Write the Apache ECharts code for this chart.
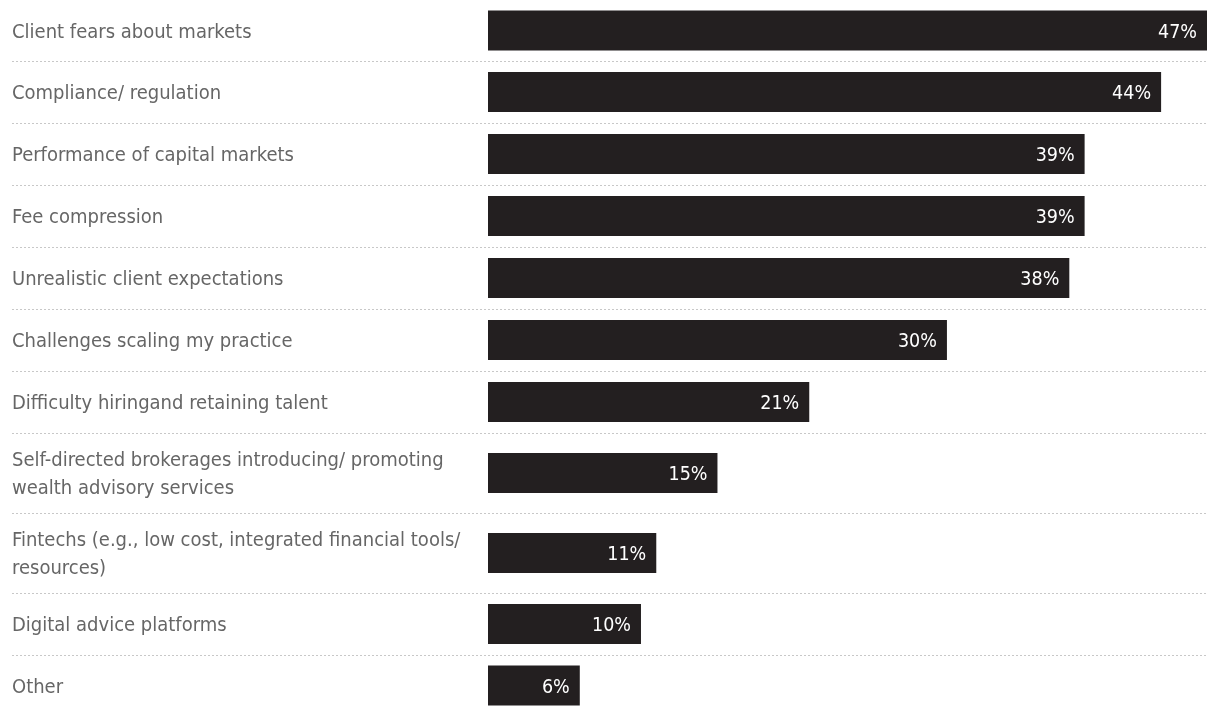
<!DOCTYPE html>
<html><head><meta charset="utf-8">
<script src="https://cdn.jsdelivr.net/npm/echarts@6/dist/echarts.min.js"></script>
<style>html,body{margin:0;padding:0;background:#fff}#c{width:1220px;height:716px}</style>
</head><body><div id="c"></div>
<script>
const categories = [
  'Client fears about markets',
  'Compliance/ regulation',
  'Performance of capital markets',
  'Fee compression',
  'Unrealistic client expectations',
  'Challenges scaling my practice',
  'Difficulty hiringand retaining talent',
  'Self-directed brokerages introducing/ promoting\nwealth advisory services',
  'Fintechs (e.g., low cost, integrated financial tools/\nresources)',
  'Digital advice platforms',
  'Other'
];
const values = [47, 44, 39, 39, 38, 30, 21, 15, 11, 10, 6];
const axisMax = 47;

(function () {
const FONT = "'Liberation Sans Narrow', 'DejaVu Sans Condensed', Roboto, sans-serif";
const rowHeights = categories.map(c => c.indexOf('\n') >= 0 ? 80 : 62);
const grids = [], xAxes = [], yAxes = [], series = [], graphics = [];
let rowTop = -1;
categories.forEach((cat, i) => {
  const h = rowHeights[i];
  grids.push({left: 488, right: 13, top: rowTop, height: h});
  xAxes.push({gridIndex: i, type: 'value', min: 0, max: axisMax, show: false});
  yAxes.push({gridIndex: i, type: 'category', data: [cat],
    axisLine: {show: false}, axisTick: {show: false},
    axisLabel: {align: 'left', margin: 476, fontFamily: FONT,
      formatter: v => '{a|' + v + '}',
      rich: {a: {color: '#666666', fontSize: 20, lineHeight: 28, fontFamily: FONT, padding: [5, 0, 1, 0]}}}});
  series.push({type: 'bar', xAxisIndex: i, yAxisIndex: i, data: [values[i]], barWidth: 40,
    itemStyle: {color: '#231f20'}, silent: true,
    label: {show: true, position: 'insideRight', distance: 10, offset: [0, 2], color: '#ffffff',
      fontSize: 19.5, fontFamily: FONT, formatter: p => p.value + '%'}});
  rowTop += h;
  if (i < categories.length - 1) {
    graphics.push({type: 'line', shape: {x1: 12, y1: rowTop + 0.5, x2: 1207, y2: rowTop + 0.5},
      style: {stroke: '#c8c8c8', lineWidth: 1, lineDash: [2, 2]}, silent: true});
  }
});

const chart = echarts.init(document.getElementById('c'), null, {renderer: 'canvas'});
chart.setOption({
  backgroundColor: '#ffffff',
  animation: false,
  grid: grids, xAxis: xAxes, yAxis: yAxes, series: series,
  graphic: graphics
});
})();
</script></body></html>
